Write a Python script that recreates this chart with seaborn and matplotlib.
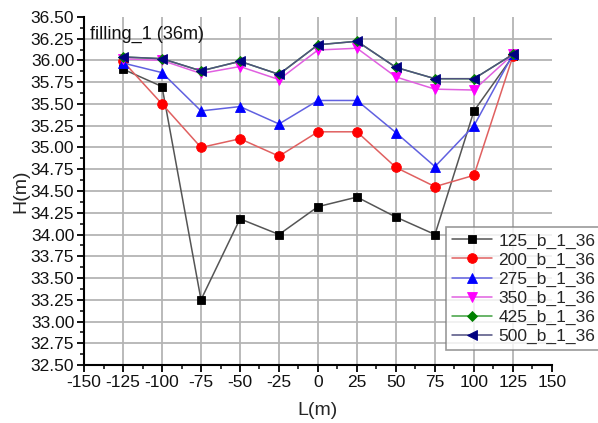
import matplotlib
matplotlib.use("Agg")
import matplotlib.pyplot as plt
import seaborn as sns
import numpy as np
from matplotlib.ticker import MultipleLocator, FormatStrFormatter

L = [-125, -100, -75, -50, -25, 0, 25, 50, 75, 100, 125]
h125 = [35.90, 35.70, 33.25, 34.18, 34.00, 34.32, 34.43, 34.20, 34.00, 35.42, 36.05]
h200 = [35.99, 35.50, 35.00, 35.10, 34.90, 35.18, 35.18, 34.77, 34.55, 34.68, 36.05]
h275 = [35.97, 35.86, 35.42, 35.47, 35.27, 35.54, 35.54, 35.17, 34.78, 35.25, 36.07]
h350 = [36.02, 36.00, 35.85, 35.93, 35.78, 36.12, 36.14, 35.81, 35.67, 35.66, 36.07]
h425 = [36.04, 36.02, 35.88, 35.99, 35.84, 36.18, 36.22, 35.92, 35.79, 35.79, 36.07]
h500 = [36.04, 36.02, 35.88, 35.99, 35.84, 36.18, 36.22, 35.92, 35.79, 35.79, 36.07]
labels = ["125_b_1_36", "200_b_1_36", "275_b_1_36", "350_b_1_36", "425_b_1_36", "500_b_1_36"]
series = [h125, h200, h275, h350, h425, h500]
marker_colors = ["#000000", "#ff0000", "#0000ff", "#ff00ff", "#008000", "#000080"]
line_colors = ["#555555", "#e06060", "#6060e0", "#e060e0", "#40a040", "#505080"]
markers = ["s", "o", "^", "v", "D", "<"]
msizes = [6, 7, 7, 7, 5.5, 7]

sns.set_theme(style="white")
plt.rcParams["font.family"] = ["Liberation Sans", "DejaVu Sans"]
plt.rcParams["axes.unicode_minus"] = False

fig = plt.figure(figsize=(5.98, 4.23), dpi=100)
ax = fig.add_axes([0.1405, 0.137, 0.7825, 0.823])

for vals, lab, mc, lc, mk, ms in zip(series, labels, marker_colors, line_colors, markers, msizes):
    sns.lineplot(x=L, y=vals, ax=ax, color=lc, linewidth=1.1, marker=mk,
                 markersize=ms, markerfacecolor=mc, markeredgecolor=mc,
                 markeredgewidth=0.6, label=lab, zorder=3)

ax.set_xlim(-150, 150)
ax.set_ylim(32.5, 36.5)
ax.xaxis.set_major_locator(MultipleLocator(25))
ax.xaxis.set_minor_locator(MultipleLocator(12.5))
ax.yaxis.set_major_locator(MultipleLocator(0.25))
ax.yaxis.set_minor_locator(MultipleLocator(0.125))
ax.yaxis.set_major_formatter(FormatStrFormatter("%.2f"))

ax.grid(True, which="major", color="#b4b4b4", linewidth=1.3, zorder=0)
fig.canvas.draw()
for gl, t in zip(ax.xaxis.get_gridlines(), ax.get_xticks()):
    if abs(t - 150) < 1e-6 or abs(t + 150) < 1e-6:
        gl.set_visible(False)
for gl, t in zip(ax.yaxis.get_gridlines(), ax.get_yticks()):
    if abs(t - 36.5) < 1e-6 or abs(t - 32.5) < 1e-6:
        gl.set_visible(False)

for s in ["top", "right"]:
    ax.spines[s].set_visible(False)
for s in ["left", "bottom"]:
    ax.spines[s].set_color("black")
    ax.spines[s].set_linewidth(1.5)

ax.tick_params(axis="both", which="major", direction="out", length=5, width=1.3,
               color="black", labelsize=12.5, labelcolor="#111111", pad=2,
               left=True, bottom=True)
ax.tick_params(axis="both", which="minor", direction="out", length=3, width=1.1,
               color="black", left=True, bottom=True)

ax.set_xlabel("L(m)", fontsize=14, labelpad=9)
ax.set_ylabel("H(m)", fontsize=14, labelpad=1)

ax.text(0.012, 0.975, "filling_1 (36m)", transform=ax.transAxes, fontsize=13,
        va="top", ha="left", color="#111111")

leg = ax.legend(loc="upper left", bbox_to_anchor=(0.746, 0.463),
                bbox_transform=fig.transFigure, fontsize=12.5, frameon=True,
                fancybox=False, edgecolor="#808080", handlelength=2.3,
                handletextpad=0.35, labelspacing=0.22, borderpad=0.35,
                borderaxespad=0)
leg.get_frame().set_linewidth(1.2)
leg.set_zorder(5)

fig.savefig("out.png", dpi=100)
